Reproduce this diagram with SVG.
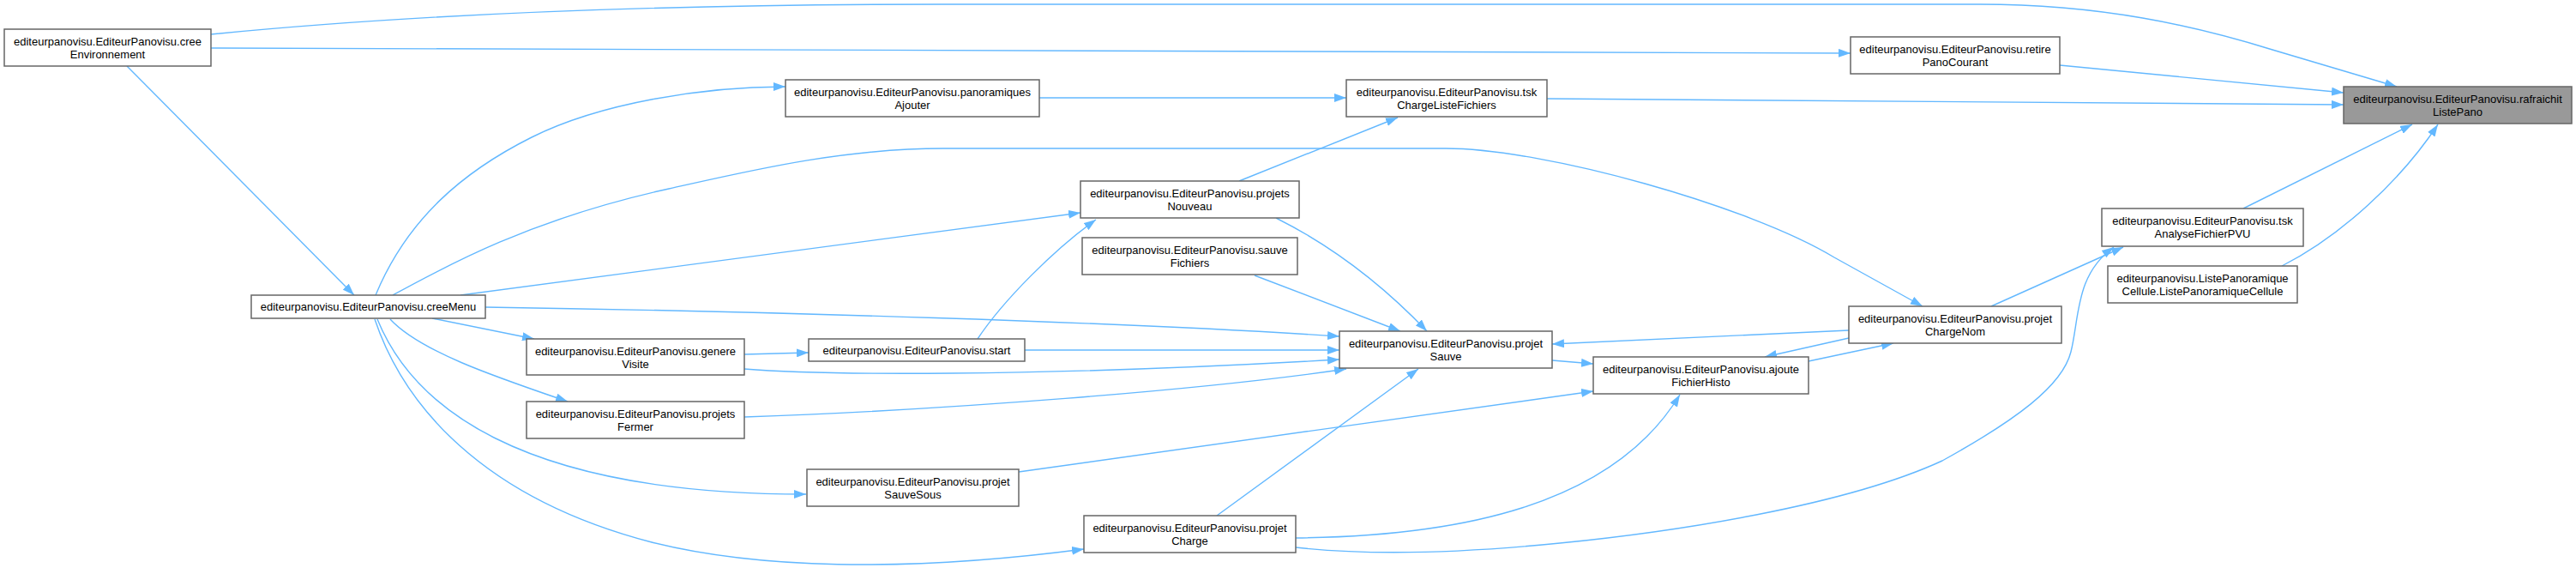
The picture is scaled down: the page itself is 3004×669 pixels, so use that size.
<svg xmlns="http://www.w3.org/2000/svg" width="3004" height="669" viewBox="0 0 3004 669">
<style>
.n rect{fill:#ffffff;stroke:#666666;stroke-width:1.5}
.n.h rect{fill:#999999}
.n text{font-family:"Liberation Sans",Arial,sans-serif;font-size:13px;fill:#000000;text-anchor:middle}
#edges path{fill:none;stroke:#63b8ff;stroke-width:1.4;marker-end:url(#a)}
</style>
<defs>
<marker id="a" markerWidth="14" markerHeight="10" refX="14" refY="5" orient="auto" markerUnits="userSpaceOnUse">
<path d="M0,0 L14,5 L0,10 z" fill="#63b8ff"/>
</marker>
</defs>
<rect width="3004" height="669" fill="#ffffff"/>
<g id="edges">
<path d="M246,40 C500,15 800,5 1100,5 L2309,5 C2450,5 2560,30 2650,58 L2795,101"/>
<path d="M246,56 C1000,56 1700,57 2158,62"/>
<path d="M148,77 L413,344"/>
<path d="M2402,76 L2733,108"/>
<path d="M1804,115 L2733,122"/>
<path d="M1212,114 L1570,114"/>
<path d="M1445,211 L1630,137"/>
<path d="M438,344 C475,255 540,200 620,160 C700,120 820,101 916,101"/>
<path d="M458,344 C520,310 620,255 780,220 C870,200 980,173 1100,173 L1686,173 C1800,173 2040,240 2139,300 L2242,357"/>
<path d="M537,344 L1260,248"/>
<path d="M1140,395 C1170,350 1230,290 1278,256"/>
<path d="M1488,254 C1560,290 1620,340 1664,386"/>
<path d="M1463,321 L1633,386"/>
<path d="M566,358 C900,363 1300,375 1562,392"/>
<path d="M1195,408 L1562,408"/>
<path d="M868,430 C950,437 1200,440 1562,419"/>
<path d="M868,486 C1100,478 1400,455 1570,430"/>
<path d="M1419,601 L1654,430"/>
<path d="M1810,420 L1858,424"/>
<path d="M1188,550 L1858,456"/>
<path d="M1511,627 C1700,625 1880,590 1959,460"/>
<path d="M1511,638 C1600,648 1700,645 1819,633 C1950,620 2150,590 2265,537 C2350,490 2405,450 2415,410 C2425,370 2420,320 2465,288"/>
<path d="M2322,357 L2476,288"/>
<path d="M2616,243 L2813,145"/>
<path d="M2661,310 C2730,275 2800,210 2843,145"/>
<path d="M2156,394 L2058,416"/>
<path d="M2109,421 L2208,400"/>
<path d="M2156,385 L1810,401"/>
<path d="M504,371 L623,395"/>
<path d="M455,372 C490,410 580,440 662,468"/>
<path d="M440,372 C480,470 600,576 940,576"/>
<path d="M437,372 C470,470 560,580 760,632 C880,662 1050,668 1264,640"/>
<path d="M868,413 L943,411"/>
</g>
<g id="creeEnvironnement" class="n"><rect x="5" y="34" width="241" height="43"/><text x="125.5" y="52.5">editeurpanovisu.EditeurPanovisu.cree</text><text x="125.5" y="67.5">Environnement</text></g>
<g id="creeMenu" class="n"><rect x="293" y="344" width="273" height="27"/><text x="429.5" y="362">editeurpanovisu.EditeurPanovisu.creeMenu</text></g>
<g id="panoramiquesAjouter" class="n"><rect x="916" y="93" width="296" height="43"/><text x="1064" y="111.5">editeurpanovisu.EditeurPanovisu.panoramiques</text><text x="1064" y="126.5">Ajouter</text></g>
<g id="tskChargeListeFichiers" class="n"><rect x="1570" y="93" width="234" height="43"/><text x="1687" y="111.5">editeurpanovisu.EditeurPanovisu.tsk</text><text x="1687" y="126.5">ChargeListeFichiers</text></g>
<g id="retirePanoCourant" class="n"><rect x="2158" y="43" width="244" height="43"/><text x="2280" y="61.5">editeurpanovisu.EditeurPanovisu.retire</text><text x="2280" y="76.5">PanoCourant</text></g>
<g id="rafraichitListePano" class="n h"><rect x="2733" y="101" width="266" height="43"/><text x="2866" y="119.5">editeurpanovisu.EditeurPanovisu.rafraichit</text><text x="2866" y="134.5">ListePano</text></g>
<g id="projetsNouveau" class="n"><rect x="1260" y="211" width="255" height="43"/><text x="1387.5" y="229.5">editeurpanovisu.EditeurPanovisu.projets</text><text x="1387.5" y="244.5">Nouveau</text></g>
<g id="sauveFichiers" class="n"><rect x="1262" y="277" width="251" height="43"/><text x="1387.5" y="295.5">editeurpanovisu.EditeurPanovisu.sauve</text><text x="1387.5" y="310.5">Fichiers</text></g>
<g id="genereVisite" class="n"><rect x="614" y="395" width="254" height="42"/><text x="741" y="413.5">editeurpanovisu.EditeurPanovisu.genere</text><text x="741" y="428.5">Visite</text></g>
<g id="projetsFermer" class="n"><rect x="614" y="468" width="254" height="43"/><text x="741" y="486.5">editeurpanovisu.EditeurPanovisu.projets</text><text x="741" y="501.5">Fermer</text></g>
<g id="start" class="n"><rect x="943" y="395" width="252" height="26"/><text x="1069" y="412.5">editeurpanovisu.EditeurPanovisu.start</text></g>
<g id="projetSauveSous" class="n"><rect x="941" y="547" width="247" height="43"/><text x="1064.5" y="565.5">editeurpanovisu.EditeurPanovisu.projet</text><text x="1064.5" y="580.5">SauveSous</text></g>
<g id="projetCharge" class="n"><rect x="1264" y="601" width="247" height="43"/><text x="1387.5" y="619.5">editeurpanovisu.EditeurPanovisu.projet</text><text x="1387.5" y="634.5">Charge</text></g>
<g id="projetSauve" class="n"><rect x="1562" y="386" width="248" height="43"/><text x="1686" y="404.5">editeurpanovisu.EditeurPanovisu.projet</text><text x="1686" y="419.5">Sauve</text></g>
<g id="ajouteFichierHisto" class="n"><rect x="1858" y="416" width="251" height="43"/><text x="1983.5" y="434.5">editeurpanovisu.EditeurPanovisu.ajoute</text><text x="1983.5" y="449.5">FichierHisto</text></g>
<g id="projetChargeNom" class="n"><rect x="2156" y="357" width="248" height="43"/><text x="2280" y="375.5">editeurpanovisu.EditeurPanovisu.projet</text><text x="2280" y="390.5">ChargeNom</text></g>
<g id="tskAnalyseFichierPVU" class="n"><rect x="2451" y="243" width="235" height="44"/><text x="2568.5" y="261.5">editeurpanovisu.EditeurPanovisu.tsk</text><text x="2568.5" y="276.5">AnalyseFichierPVU</text></g>
<g id="ListePanoramiqueCellule" class="n"><rect x="2458" y="310" width="221" height="43"/><text x="2568.5" y="328.5">editeurpanovisu.ListePanoramique</text><text x="2568.5" y="343.5">Cellule.ListePanoramiqueCellule</text></g>
</svg>
